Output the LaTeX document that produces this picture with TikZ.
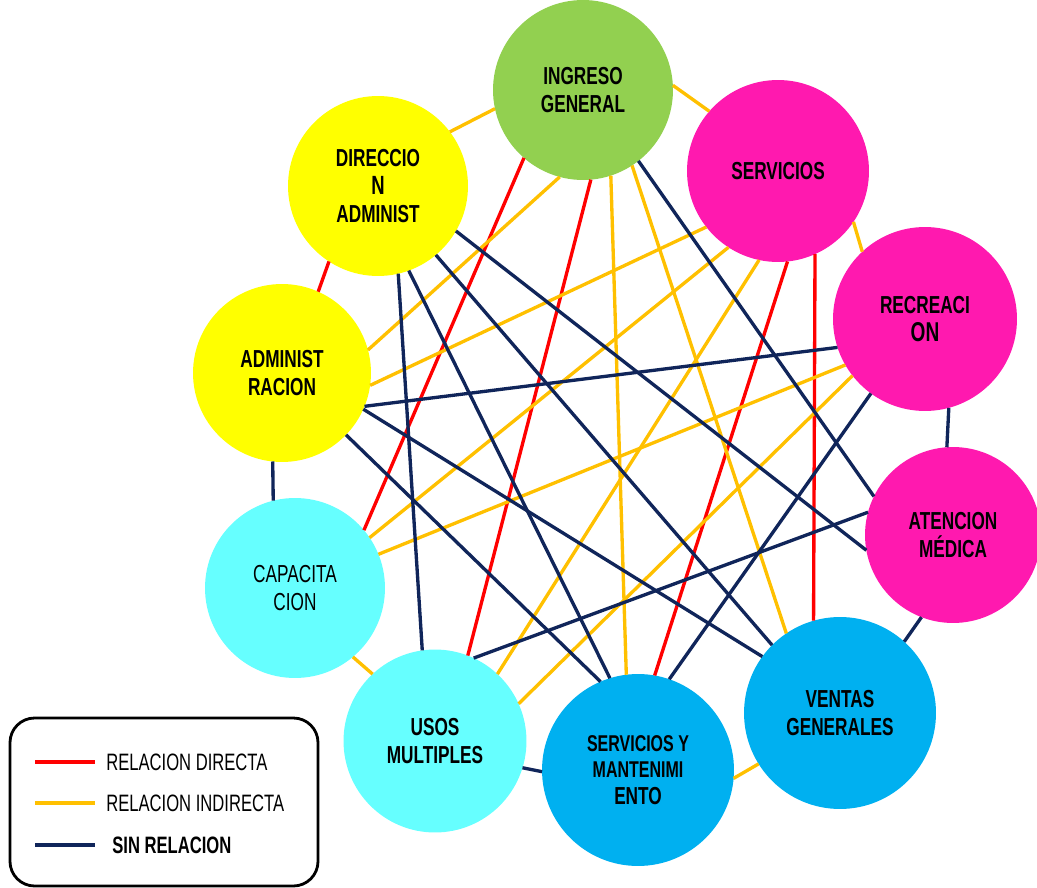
\documentclass[tikz,border=0pt]{standalone}
\usepackage{fontspec}
\setmainfont{Liberation Sans}[FakeStretch=0.7]

\definecolor{verde}{HTML}{92D050}
\definecolor{amarillo}{HTML}{FFFF00}
\definecolor{rosa}{HTML}{FF19AF}
\definecolor{celeste}{HTML}{66FFFF}
\definecolor{azul}{HTML}{00B0F0}
\definecolor{rojo}{HTML}{FF0000}
\definecolor{naranja}{HTML}{FFC000}
\definecolor{marino}{HTML}{10255A}

\begin{document}
\begin{tikzpicture}[x=0.02cm, y=-0.02cm,
    area/.style={circle, inner sep=0pt, outer sep=0pt, align=center, font=\fontsize{14}{16}\selectfont\bfseries},
    directa/.style={draw=rojo, line width=1.9pt},
    indirecta/.style={draw=naranja, line width=1.9pt},
    sinrel/.style={draw=marino, line width=1.9pt},
    leyenda/.style={anchor=west, inner sep=0pt, font=\fontsize{13.5}{15}\selectfont}]

    % Define the picture size
    \useasboundingbox (0,0) rectangle (1037,888);

    % Define the areas
    \node[area, fill=verde, minimum size=3.6cm] (ing) at (583,90) {INGRESO\\GENERAL};
    \node[area, fill=amarillo, minimum size=3.6cm] (dir) at (378,186) {DIRECCIO\\{\fontsize{15}{16}\selectfont N}\\ADMINIST};
    \node[area, fill=rosa, minimum size=3.64cm] (serv) at (778,171) {SERVICIOS};
    \node[area, fill=rosa, minimum size=3.68cm] (rec) at (925,319) {RECREACI\\{\fontsize{15.5}{16}\selectfont ON}};
    \node[area, fill=amarillo, minimum size=3.56cm] (adm) at (282,373) {ADMINIST\\RACION};
    \node[area, fill=celeste, minimum size=3.6cm, font=\fontsize{14}{16}\selectfont] (cap) at (295,588) {CAPACITA\\CION};
    \node[area, fill=celeste, minimum size=3.66cm] (usos) at (435,741) {USOS\\MULTIPLES};
    \node[area, fill=azul, minimum size=3.84cm, font=\fontsize{13}{15}\selectfont\bfseries] (sm) at (638,770) {SERVICIOS Y\\MANTENIMI\\{\fontsize{14}{15}\selectfont ENTO}};
    \node[area, fill=azul, minimum size=3.84cm] (vent) at (840,713) {VENTAS\\GENERALES};
    \node[area, fill=rosa, minimum size=3.52cm] (aten) at (953,535) {ATENCION\\MÉDICA};

    % Draw the direct relations
    \draw[directa] (dir.237) -- (adm.66);
    \draw[directa] (ing.229) -- (cap.40);
    \draw[directa] (ing.275) -- (usos.69);
    \draw[directa] (serv.276) -- (sm.80);
    \draw[directa] (serv.294) -- (vent.106);

    % Draw the indirect relations
    \draw[indirecta] (dir.37) -- (ing.192);
    \draw[indirecta] (ing.3) -- (serv.139);
    \draw[indirecta] (ing.255) -- (adm.15);
    \draw[indirecta] (ing.288) -- (sm.97);
    \draw[indirecta] (ing.303) -- (vent.124);
    \draw[indirecta] (adm.352) -- (serv.218);
    \draw[indirecta] (cap.34) -- (serv.237);
    \draw[indirecta] (cap.22) -- (rec.210);
    \draw[indirecta] (cap.310) -- (usos.133);
    \draw[indirecta] (usos.47) -- (serv.258);
    \draw[indirecta] (usos.24) -- (rec.218);
    \draw[indirecta] (serv.326) -- (rec.133);
    \draw[indirecta] (sm.355) -- (vent.212);

    % Draw the areas with no relation
    \draw[sinrel] (dir.330) -- (aten.190);
    \draw[sinrel] (dir.310) -- (vent.135);
    \draw[sinrel] (dir.283) -- (usos.98);
    \draw[sinrel] (dir.290) -- (sm.107);
    \draw[sinrel] (ing.308) -- (aten.154);
    \draw[sinrel] (adm.338) -- (rec.198);
    \draw[sinrel] (adm.336) -- (vent.144);
    \draw[sinrel] (adm.316) -- (sm.113);
    \draw[sinrel] (adm.264) -- (cap.104);
    \draw[sinrel] (usos.65) -- (aten.165);
    \draw[sinrel] (usos.343) -- (sm.181);
    \draw[sinrel] (sm.71) -- (rec.234);
    \draw[sinrel] (vent.48) -- (aten.249);
    \draw[sinrel] (rec.285) -- (aten.94);

    % Draw the legend
    \draw[line width=1.6pt, rounded corners=14pt] (10,718) rectangle (318,886);
    \draw[directa, line width=2.6pt] (35,762) -- (95,762);
    \draw[indirecta, line width=2.6pt] (35,803) -- (95,803);
    \draw[sinrel, line width=2.6pt] (35,845) -- (95,845);
    \node[leyenda] (ldir) at (106,762) {RELACION DIRECTA};
    \node[leyenda] (lind) at (106,803) {RELACION INDIRECTA};
    \node[leyenda, font=\fontsize{13.5}{15}\selectfont\bfseries] (lsin) at (112,845) {SIN RELACION};

\end{tikzpicture}
\end{document}
